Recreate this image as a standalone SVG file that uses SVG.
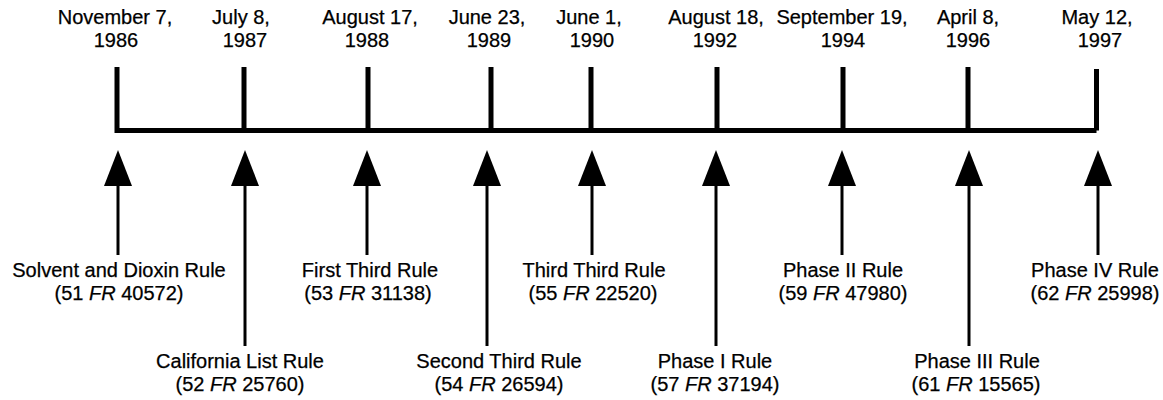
<svg xmlns="http://www.w3.org/2000/svg" width="1163" height="400" viewBox="0 0 1163 400">
<style>
text{font-family:"Liberation Sans",Arial,sans-serif;font-size:20px;fill:#000;stroke:#000;stroke-width:0.25;text-anchor:middle}
.i{font-style:italic}
.tick{stroke:#000;stroke-width:5;fill:none}
.stem{stroke:#000;stroke-width:3;fill:none}
</style>
<defs>
<path id="head" d="M0,0 L14,36 L-14,36 Z" fill="#000"/>
</defs>
<rect width="1163" height="400" fill="#fff"/>
<g id="connectors">
<path class="tick" d="M117,67 V130.5 H1096.5 M244,67 V130.5 M368,67 V130.5 M491,67 V130.5 M591,67 V130.5 M717,67 V130.5 M843,67 V130.5 M968,67 V130.5 M1096.5,69 V130.5"/>
<g class="stem">
<line x1="118" y1="186" x2="118" y2="255"/>
<line x1="245" y1="186" x2="245" y2="346"/>
<line x1="367" y1="186" x2="367" y2="255"/>
<line x1="487" y1="186" x2="487" y2="346"/>
<line x1="592" y1="186" x2="592" y2="255"/>
<line x1="716" y1="186" x2="716" y2="346"/>
<line x1="842" y1="186" x2="842" y2="255"/>
<line x1="969" y1="186" x2="969" y2="346"/>
<line x1="1098" y1="186" x2="1098" y2="255"/>
</g>
<use href="#head" x="118" y="150"/>
<use href="#head" x="245" y="150"/>
<use href="#head" x="367" y="150"/>
<use href="#head" x="487" y="150"/>
<use href="#head" x="592" y="150"/>
<use href="#head" x="716" y="150"/>
<use href="#head" x="842" y="150"/>
<use href="#head" x="969" y="150"/>
<use href="#head" x="1098" y="150"/>
</g>
<g id="date1"><text x="115" y="24">November 7,</text><text x="116" y="47">1986</text></g>
<g id="date2"><text x="241" y="24">July 8,</text><text x="245" y="47">1987</text></g>
<g id="date3"><text x="370" y="24">August 17,</text><text x="367" y="47">1988</text></g>
<g id="date4"><text x="487" y="24">June 23,</text><text x="489" y="47">1989</text></g>
<g id="date5"><text x="589" y="24">June 1,</text><text x="592" y="47">1990</text></g>
<g id="date6"><text x="716" y="24">August 18,</text><text x="715" y="47">1992</text></g>
<g id="date7"><text x="842" y="24">September 19,</text><text x="843" y="47">1994</text></g>
<g id="date8"><text x="968" y="24">April 8,</text><text x="968" y="47">1996</text></g>
<g id="date9"><text x="1097" y="24">May 12,</text><text x="1100" y="47">1997</text></g>
<g id="rule1"><text x="119" y="277">Solvent and Dioxin Rule</text><text x="119" y="299.5">(51 <tspan class="i">FR</tspan> 40572)</text></g>
<g id="rule2"><text x="240" y="368">California List Rule</text><text x="240" y="390.5">(52 <tspan class="i">FR</tspan> 25760)</text></g>
<g id="rule3"><text x="370" y="277">First Third Rule</text><text x="368" y="299.5">(53 <tspan class="i">FR</tspan> 31138)</text></g>
<g id="rule4"><text x="499" y="368">Second Third Rule</text><text x="499" y="390.5">(54 <tspan class="i">FR</tspan> 26594)</text></g>
<g id="rule5"><text x="594" y="277">Third Third Rule</text><text x="593" y="299.5">(55 <tspan class="i">FR</tspan> 22520)</text></g>
<g id="rule6"><text x="715" y="368">Phase I Rule</text><text x="715" y="390.5">(57 <tspan class="i">FR</tspan> 37194)</text></g>
<g id="rule7"><text x="843" y="277">Phase II Rule</text><text x="843" y="299.5">(59 <tspan class="i">FR</tspan> 47980)</text></g>
<g id="rule8"><text x="977" y="368">Phase III Rule</text><text x="976" y="390.5">(61 <tspan class="i">FR</tspan> 15565)</text></g>
<g id="rule9"><text x="1095" y="277">Phase IV Rule</text><text x="1095" y="299.5">(62 <tspan class="i">FR</tspan> 25998)</text></g>
</svg>
